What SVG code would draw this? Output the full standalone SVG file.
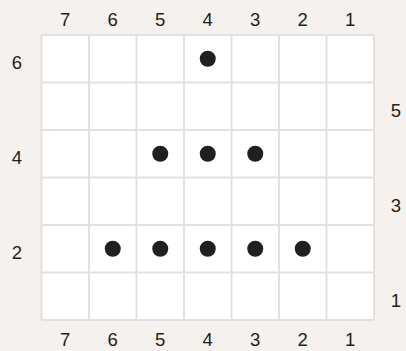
<svg xmlns="http://www.w3.org/2000/svg" width="406" height="351" viewBox="0 0 406 351">
<style>
.lbl{font-family:"Liberation Sans",Arial,sans-serif;font-size:18.5px;fill:#231f20;text-anchor:middle}
.grid{stroke:#e1e1e1;stroke-width:2;fill:none}
.dot{fill:#231f20}
</style>
<rect width="406" height="351" fill="#f5f1ee"/>
<g id="board">
<rect x="41.5" y="35" width="332.5" height="285" fill="#ffffff"/>
<path class="grid" d="M41.5 35V320M89 35V320M136.5 35V320M184 35V320M231.5 35V320M279 35V320M326.5 35V320M374 35V320M41.5 35H374M41.5 82.5H374M41.5 130H374M41.5 177.5H374M41.5 225H374M41.5 272.5H374M41.5 320H374"/>
</g>
<g id="dots">
<circle class="dot" cx="207.75" cy="58.75" r="8"/>
<circle class="dot" cx="160.25" cy="153.75" r="8"/>
<circle class="dot" cx="207.75" cy="153.75" r="8"/>
<circle class="dot" cx="255.25" cy="153.75" r="8"/>
<circle class="dot" cx="112.75" cy="248.75" r="8"/>
<circle class="dot" cx="160.25" cy="248.75" r="8"/>
<circle class="dot" cx="207.75" cy="248.75" r="8"/>
<circle class="dot" cx="255.25" cy="248.75" r="8"/>
<circle class="dot" cx="302.75" cy="248.75" r="8"/>
</g>
<g id="labels-top">
<text class="lbl" x="65.25" y="26">7</text>
<text class="lbl" x="112.75" y="26">6</text>
<text class="lbl" x="160.25" y="26">5</text>
<text class="lbl" x="207.75" y="26">4</text>
<text class="lbl" x="255.25" y="26">3</text>
<text class="lbl" x="302.75" y="26">2</text>
<text class="lbl" x="350.25" y="26">1</text>
</g>
<g id="labels-bottom">
<text class="lbl" x="65.25" y="346">7</text>
<text class="lbl" x="112.75" y="346">6</text>
<text class="lbl" x="160.25" y="346">5</text>
<text class="lbl" x="207.75" y="346">4</text>
<text class="lbl" x="255.25" y="346">3</text>
<text class="lbl" x="302.75" y="346">2</text>
<text class="lbl" x="350.25" y="346">1</text>
</g>
<g id="labels-left">
<text class="lbl" x="17" y="68.5">6</text>
<text class="lbl" x="17" y="163.5">4</text>
<text class="lbl" x="17" y="258.5">2</text>
</g>
<g id="labels-right">
<text class="lbl" x="396" y="116.5">5</text>
<text class="lbl" x="396" y="211.5">3</text>
<text class="lbl" x="396" y="306.5">1</text>
</g>
</svg>
